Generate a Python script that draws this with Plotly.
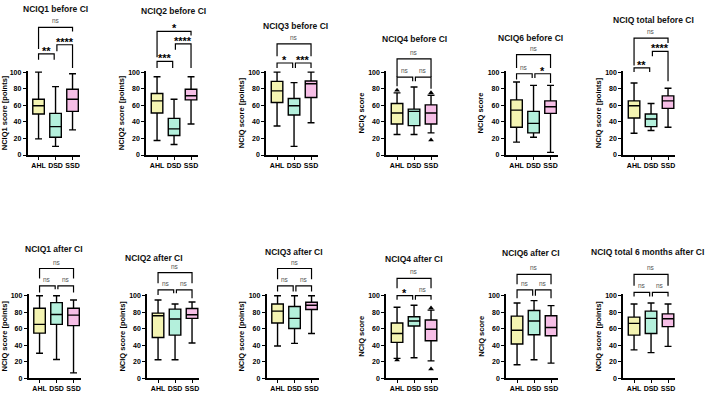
import plotly.graph_objects as go

# ---------------- data ----------------
groups = ["AHL", "DSD", "SSD"]
colors = ["#F4F4B2", "#B4F0DC", "#F6BEE6"]

titles = ["NCIQ1 before CI", "NCIQ2 before CI", "NCIQ3 before CI", "NCIQ4 before CI",
          "NCIQ6 before CI", "NCIQ total before CI",
          "NCIQ1 after CI", "NCIQ2 after CI", "NCIQ3 after CI", "NCIQ4 after CI",
          "NCIQ6 after CI", "NCIQ total 6 months after CI"]
ylabels = ["NCIQ1 score [points]", "NCIQ2 score [points]", "NCIQ score [points]", "NCIQ score",
           "NCIQ score", "NCIQ score [points]",
           "NCIQ score [points]", "NCIQ score [points]", "NCIQ score [points]", "NCIQ score",
           "NCIQ score", "NCIQ score [points]"]

# per panel: [AHL, DSD, SSD]
whisker_low = [[19.5, 10.4, 30.3], [17.5, 12.7, 37.5], [35, 10.4, 39], [24.7, 24.7, 26.7],
               [15.5, 21.5, 3.2], [26.3, 29.5, 33.5],
               [30.3, 22.7, 6.4], [22.3, 22.3, 42.6], [39, 42.2, 54.2], [24, 24.7, 21],
               [16.3, 22.3, 18.3], [34.3, 31, 38.6]]
q1 = [[49.4, 21.5, 52.6], [50.6, 23.5, 66.5], [63.3, 48.2, 69.3], [37.5, 35.5, 37.5],
      [33.5, 26.7, 50.2], [44.6, 34.3, 56.2],
      [54.6, 65.3, 63.7], [49.4, 52.2, 72.5], [66.9, 60.2, 83.3], [43.4, 63.3, 45.4],
      [41.4, 52.6, 51.4], [52.2, 54.2, 62.5]]
median = [[59.4, 34.3, 67.3], [65.3, 31.5, 71.5], [77.3, 59.4, 86], [50.6, 52.6, 50.6],
          [54.2, 38.2, 58.2], [59.4, 43.4, 65.3],
          [65.3, 77.3, 76.5], [75.7, 71.7, 77], [81.3, 72.5, 88.4], [54.2, 69.3, 59.4],
          [58.2, 69.3, 61.4], [66.5, 72.5, 72]]
q3 = [[67.3, 50.2, 79.3], [74.1, 44.2, 79.3], [88.8, 68.1, 89.2], [62.2, 55.4, 60.5],
      [66.5, 52.6, 65.3], [65.3, 49.4, 71.3],
      [84.9, 91.6, 84.9], [78.9, 83.7, 84.5], [90, 86.9, 92], [66.9, 74.5, 70.5],
      [75.3, 82.1, 75.7], [74.1, 81.3, 78]]
whisker_high = [[100, 82.5, 98], [94.4, 67.3, 94.4], [100, 87.3, 100], [75, 82, 72],
                [88, 84, 84], [86.9, 62.2, 80.5],
                [100, 100, 94.8], [94.8, 90, 92.4], [100, 100, 100], [86, 88.4, 82.5],
                [91.2, 94, 88], [90, 91.2, 90]]

# outliers: (panel index, group index, value)
outliers = [(3, 0, 78), (3, 2, 75), (3, 2, 18), (9, 0, 22), (9, 2, 85), (9, 2, 11)]

# significance brackets: (group a, group b, bar height, leg end a, leg end b, label)
brackets = [
    [(0, 2, 154, 128, 149, "ns"), (0, 1, 122, 115, 115, "**"), (1, 2, 133, 125, 105, "****")],
    [(0, 2, 149, 118, 144, "*"), (1, 2, 134, 127, 105, "****"), (0, 1, 113, 105, 105, "***")],
    [(0, 2, 134, 119, 119, "ns"), (0, 1, 111, 105, 105, "*"), (1, 2, 111, 105, 105, "***")],
    [(0, 2, 116, 94, 94, "ns"), (0, 1, 94, 83, 89, "ns"), (1, 2, 94, 89, 80, "ns")],
    [(0, 2, 121, 105, 105, "ns"), (0, 1, 98, 91, 93, "ns"), (1, 2, 98, 93, 87, "*")],
    [(0, 2, 141, 108, 135, "ns"), (1, 2, 125, 119, 89, "****"), (0, 1, 105, 100, 100, "**")],
    [(0, 2, 133, 121, 121, "ns"), (0, 1, 112, 104, 108, "ns"), (1, 2, 112, 108, 104, "ns")],
    [(0, 2, 128, 115, 115, "ns"), (0, 1, 107, 101, 103, "ns"), (1, 2, 107, 103, 97, "ns")],
    [(0, 2, 133, 120, 120, "ns"), (0, 1, 112, 105, 105, "ns"), (1, 2, 112, 105, 105, "ns")],
    [(0, 2, 121, 109, 109, "ns"), (0, 1, 100, 95, 95, "*"), (1, 2, 100, 95, 95, "ns")],
    [(0, 2, 126, 114, 114, "ns"), (0, 1, 107, 97, 100, "ns"), (1, 2, 107, 100, 97, "ns")],
    [(0, 2, 126, 112, 112, "ns"), (0, 1, 104, 99, 99, "ns"), (1, 2, 104, 99, 99, "ns")],
]
yticks = [0, 20, 40, 60, 80, 100]

# ---------------- layout geometry (pixels) ----------------
W, H = 708, 394
FONT = "Liberation Sans, Arial, sans-serif"
YMAX = 101.5
XR = [-0.65, 2.41]
panel_left = [27.5, 146, 266, 386, 505.5, 623, 28.5, 147, 266.5, 386, 506, 623]
panel_w = 52
row_zero_px = [155, 381]
row_scale = [0.84, 0.835]  # px per unit
title_pos = [(55, 7), (173, 9), (295, 24), (414, 37), (530, 36), (653, 18),
             (54, 250), (154, 259.5), (294, 253), (414, 260), (531, 254), (647, 253)]

fig = go.Figure()
layout = dict(width=W, height=H, margin=dict(l=0, r=0, t=0, b=0),
              paper_bgcolor="white", plot_bgcolor="white", showlegend=False,
              font=dict(family=FONT, color="black"))
shapes, annots = [], []

for p in range(12):
    n = p + 1
    xs = "x" if n == 1 else f"x{n}"
    ys = "y" if n == 1 else f"y{n}"
    xk = "xaxis" if n == 1 else f"xaxis{n}"
    yk = "yaxis" if n == 1 else f"yaxis{n}"
    r = 0 if p < 6 else 1
    y0px = row_zero_px[r]
    y1px = y0px - YMAX * row_scale[r]
    L = panel_left[p]
    layout[xk] = dict(domain=[L / W, (L + panel_w) / W], range=XR, anchor=ys,
                      tickmode="array", tickvals=[0, 1, 2], ticktext=groups,
                      showline=True, linecolor="black", linewidth=1.5,
                      ticks="outside", ticklen=3, tickwidth=1.3, tickcolor="black",
                      tickfont=dict(size=7, family=FONT, weight="bold"),
                      showgrid=False, zeroline=False, fixedrange=True)
    layout[yk] = dict(domain=[1 - y0px / H, 1 - y1px / H], range=[0, YMAX], anchor=xs,
                      tickmode="array", tickvals=yticks,
                      showline=True, linecolor="black", linewidth=1.5,
                      ticks="outside", ticklen=3, tickwidth=1.3, tickcolor="black",
                      tickfont=dict(size=7, family=FONT, weight="bold"),
                      title=dict(text=ylabels[p], font=dict(size=7.5, family=FONT, weight="bold"),
                                 standoff=3),
                      showgrid=False, zeroline=False, fixedrange=True)
    for g in range(3):
        fig.add_trace(go.Box(
            x=[g], q1=[q1[p][g]], median=[median[p][g]], q3=[q3[p][g]],
            lowerfence=[whisker_low[p][g]], upperfence=[whisker_high[p][g]],
            width=0.68, whiskerwidth=0.6, fillcolor=colors[g],
            line=dict(color="black", width=1.4), boxpoints=False,
            xaxis=xs, yaxis=ys, hoverinfo="skip"))
    ox = [o[1] for o in outliers if o[0] == p]
    oy = [o[2] for o in outliers if o[0] == p]
    if ox:
        fig.add_trace(go.Scatter(x=ox, y=oy, mode="markers", xaxis=xs, yaxis=ys,
                                 marker=dict(symbol="triangle-up", size=5, color="black"),
                                 cliponaxis=False, hoverinfo="skip"))
    for (a, b, h, la, lb, lab) in brackets[p]:
        xa = a + 0.08 if a == 1 else a
        xb = b - 0.08 if b == 1 else b
        path = (f"M {xa},{la / YMAX} L {xa},{h / YMAX} L {xb},{h / YMAX} L {xb},{lb / YMAX}")
        shapes.append(dict(type="path", path=path, xref=xs, yref=f"{ys} domain",
                           line=dict(color="black", width=1.2)))
        if lab == "ns":
            annots.append(dict(x=(xa + xb) / 2, y=h / YMAX, xref=xs, yref=f"{ys} domain",
                               text="ns", showarrow=False, yanchor="bottom", yshift=1,
                               font=dict(size=6.5, color="#555555", family=FONT)))
        else:
            annots.append(dict(x=(xa + xb) / 2, y=h / YMAX, xref=xs, yref=f"{ys} domain",
                               text=lab, showarrow=False, yanchor="bottom", yshift=-5,
                               font=dict(size=11, color="black", family=FONT, weight="bold")))
    tx, ty = title_pos[p]
    annots.append(dict(x=tx / W, y=1 - ty / H, xref="paper", yref="paper", text=titles[p],
                       showarrow=False, xanchor="center", yanchor="middle",
                       font=dict(size=8.5, color="#111111", family=FONT, weight="bold")))

layout["shapes"] = shapes
layout["annotations"] = annots
fig.update_layout(**layout)
fig.write_html("out.html", config={"displayModeBar": False},
               post_script="document.body.style.margin='0px';")
